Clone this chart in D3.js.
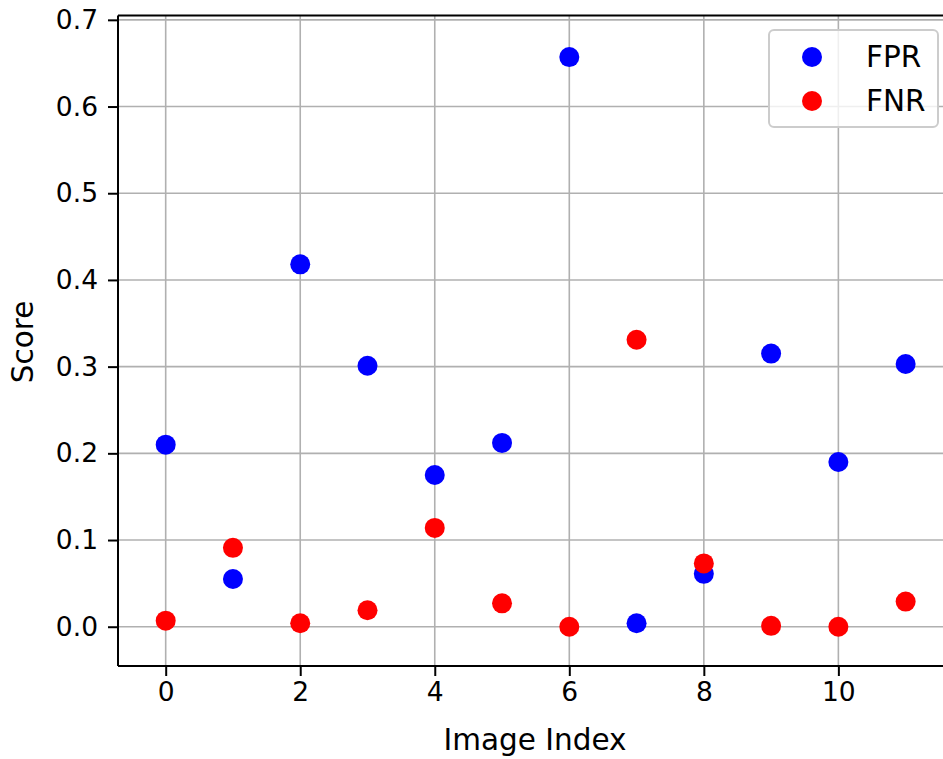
<!DOCTYPE html>
<html>
<head>
<meta charset="utf-8">
<script src="https://cdn.jsdelivr.net/npm/d3@7"></script>
<style>
  body { margin: 0; background: #fff; }
  svg text { font-family: "DejaVu Sans", sans-serif; fill: #000; }
  .grid line { stroke: #b0b0b0; stroke-width: 1.6; }
</style>
</head>
<body>
<svg id="chart" width="943" height="759"></svg>
<script>
var indices = [0, 1, 2, 3, 4, 5, 6, 7, 8, 9, 10, 11];
var fprValues = [0.210, 0.055, 0.418, 0.301, 0.175, 0.212, 0.657, 0.004, 0.061, 0.315, 0.190, 0.303];
var fnrValues = [0.007, 0.091, 0.004, 0.019, 0.114, 0.027, 0.000, 0.331, 0.073, 0.001, 0.000, 0.029];
var xTicks = [0, 2, 4, 6, 8, 10];
var yTicks = [0.0, 0.1, 0.2, 0.3, 0.4, 0.5, 0.6, 0.7];
var seriesNames = ['FPR', 'FNR'];
var seriesColors = ['#0000ff', '#ff0000'];

var svg = d3.select('#chart'),
    plotLeft = 118,
    plotTop = 15.5,
    plotBottom = 666,
    plotRight = 946,
    fontSize = 26.5,
    labelSize = 29.5,
    radius = 10;

var x = d3.scaleLinear().domain([-0.709, 11.6]).range([plotLeft, plotRight]);
var y = d3.scaleLinear().domain([-0.0453, 0.705]).range([plotBottom, plotTop]);

// grid
var grid = svg.append('g').attr('class', 'grid');
grid.selectAll('.vx').data(xTicks).enter().append('line')
    .attr('x1', function(d){ return x(d); })
    .attr('x2', function(d){ return x(d); })
    .attr('y1', plotTop).attr('y2', plotBottom);
grid.selectAll('.hy').data(yTicks).enter().append('line')
    .attr('x1', plotLeft).attr('x2', plotRight)
    .attr('y1', function(d){ return y(d); })
    .attr('y2', function(d){ return y(d); });

// axes
var xAxis = d3.axisBottom(x).tickValues(xTicks).tickSize(10).tickPadding(6)
    .tickFormat(d3.format('d'));
var yAxis = d3.axisLeft(y).tickValues(yTicks).tickSize(10).tickPadding(10)
    .tickFormat(d3.format('.1f'));

var gx = svg.append('g').attr('transform', 'translate(0,' + plotBottom + ')').call(xAxis);
var gy = svg.append('g').attr('transform', 'translate(' + plotLeft + ',0)').call(yAxis);

[gx, gy].forEach(function(g){
  g.select('.domain').remove();
  g.attr('font-size', fontSize).attr('font-family', '"DejaVu Sans", sans-serif');
  g.selectAll('.tick line').attr('stroke', '#000').attr('stroke-width', 2);
  g.selectAll('.tick text').attr('fill', '#000');
});

// spines (left, bottom, top; the right one falls outside the picture)
svg.append('line').attr('x1', plotLeft).attr('x2', plotLeft).attr('y1', plotTop).attr('y2', plotBottom)
   .attr('stroke', '#000').attr('stroke-width', 2);
svg.append('line').attr('x1', plotLeft).attr('x2', plotRight).attr('y1', plotBottom).attr('y2', plotBottom)
   .attr('stroke', '#000').attr('stroke-width', 2);
svg.append('line').attr('x1', plotLeft).attr('x2', plotRight).attr('y1', plotTop).attr('y2', plotTop)
   .attr('stroke', '#000').attr('stroke-width', 2);

// points
var series = [fprValues, fnrValues];
series.forEach(function(vals, i){
  svg.append('g').selectAll('circle').data(vals).enter().append('circle')
     .attr('cx', function(d, j){ return x(indices[j]); })
     .attr('cy', function(d){ return y(d); })
     .attr('r', radius)
     .attr('fill', seriesColors[i]);
});

// axis labels
svg.append('text')
   .attr('x', 535).attr('y', 750)
   .attr('text-anchor', 'middle')
   .attr('font-size', labelSize)
   .text('Image Index');

svg.append('text')
   .attr('transform', 'translate(33,342) rotate(-90)')
   .attr('text-anchor', 'middle')
   .attr('font-size', labelSize)
   .text('Score');

// legend
var legend = svg.append('g');
legend.append('rect')
   .attr('x', 769).attr('y', 30).attr('width', 169).attr('height', 97)
   .attr('rx', 5).attr('ry', 5)
   .attr('fill', '#fff').attr('fill-opacity', 0.8)
   .attr('stroke', '#cccccc').attr('stroke-width', 2);

seriesNames.forEach(function(name, i){
  var cy = 57 + i * 44;
  legend.append('circle')
     .attr('cx', 812).attr('cy', cy).attr('r', radius)
     .attr('fill', seriesColors[i]);
  legend.append('text')
     .attr('x', 866).attr('y', cy + 10)
     .attr('font-size', labelSize)
     .text(name);
});
</script>
</body>
</html>
